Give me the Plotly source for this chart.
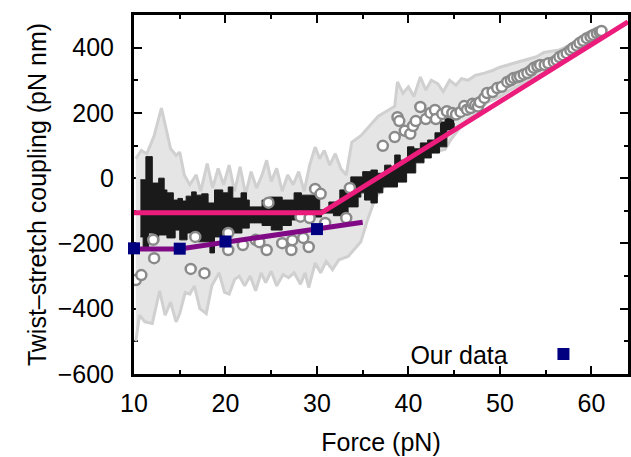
import plotly.graph_objects as go

# ---- gray envelope (upper / lower edges) ----
band_up_x = [10.2, 10.8, 11.4, 12.2, 13.0, 13.5, 14.0, 14.6, 15.0, 15.5, 16.1, 16.8, 17.3, 18.0, 18.6,
             19.2, 19.8, 20.4, 21.0, 21.6, 22.2, 22.8, 23.4, 24.0, 24.5, 25.0, 25.6, 26.2, 26.8, 27.4,
             28.0, 28.6, 29.2, 29.8, 30.3, 30.8, 31.4, 32.0, 32.6, 33.2, 33.8, 34.8, 35.8, 36.7, 37.6,
             38.5, 38.8, 39.4, 40.0, 40.6, 41.3, 41.9, 42.5, 43.2, 43.8, 44.5, 45.2, 45.8, 46.5, 47.3,
             48.3, 49.2, 50.0, 51.0, 52.0, 53.0, 54.0, 54.8, 55.6, 56.5, 57.3, 58.0, 58.7, 59.3]
band_up_y = [60, 85, 75, 130, 215, 150, 90, 70, 80, 10, -20, 10, -40, 45, -30,
             30, -20, 40, -40, 35, -50, 20, -30, 10, 55, -10, 30, -40, 10, -20,
             20, -40, 40, 95, 60, 85, 40, 75, 30, 10, 110, 130, 160, 190, 205,
             220, 295, 260, 280, 250, 310, 270, 300, 290, 265, 300, 285, 305, 300, 315,
             322, 330, 340, 348, 355, 363, 372, 385, 388, 393, 403, 410, 422, 432]
band_lo_x = [10.2, 10.6, 11.2, 12.0, 12.8, 13.4, 14.0, 14.6, 15.0, 15.6, 16.1, 16.6, 17.2, 17.9, 18.5,
             19.3, 19.9, 20.4, 21.0, 21.5, 22.1, 22.7, 23.3, 23.9, 24.4, 25.0, 25.6, 26.3, 26.9, 27.5,
             28.2, 28.7, 29.1, 29.8, 30.4, 31.0, 31.7, 32.4, 33.4, 34.0, 34.8, 35.5, 36.4, 37.2, 38.1,
             39.2, 40.0, 41.0, 41.8, 43.0, 44.0, 44.6, 45.5, 46.4, 47.5, 48.6, 50.0, 51.0, 52.2, 53.5,
             54.5, 55.9, 57.0, 57.6, 58.3, 59.3]
band_lo_y = [-500, -420, -440, -445, -345, -420, -380, -440, -415, -350, -355, -330, -400, -415, -330,
             -290, -350, -355, -310, -300, -330, -300, -345, -290, -320, -285, -330, -295, -305, -290,
             -325, -290, -335, -260, -290, -255, -280, -250, -240, -220, -195, -130, -60, -30, -5,
             30, 55, 70, 78, 82, 88, 117, 150, 178, 200, 232, 250, 268, 285, 305,
             320, 337, 355, 368, 390, 432]

# ---- black noisy band ----
blk_up_x = [10.7, 11.3, 12.0, 12.7, 13.3, 13.6, 14.3, 14.8, 15.3, 15.7, 16.3, 16.8, 17.4, 18.1, 18.8,
            19.7, 20.3, 20.8, 21.7, 22.3, 22.6, 24.0, 24.8, 26.2, 27.5, 28.3, 29.8, 30.3, 31.3, 32.5,
            33.7, 34.5, 35.0, 35.9, 36.6, 37.4, 38.1, 38.5, 39.1, 39.9, 40.6, 41.3, 42.1, 42.9, 43.5,
            44.0, 44.5, 45.0]
blk_up_y = [-5, 66, -15, 0, -36, -45, -67, -62, -70, -55, -42, -52, -48, -76, -36,
            -45, -27, -61, -45, -67, -88, -67, -58, -67, -45, -52, -36, -97, -73, -36,
            4, 4, 20, 25, 15, 40, 35, 71, 55, 96, 90, 108, 117, 139, 172,
            184, 187, 187]
blk_lo_x = [10.7, 11.0, 11.6, 12.1, 12.7, 13.6, 14.5, 15.0, 15.8, 17.0, 18.3, 18.8, 19.7, 20.8, 21.8,
            22.6, 24.0, 25.0, 26.2, 27.2, 29.1, 30.5, 31.8, 33.4, 34.5, 34.8, 35.2, 35.9, 36.6, 37.2,
            38.1, 38.8, 39.8, 40.8, 41.7, 42.5, 43.4, 44.2, 45.0]
blk_lo_y = [-180, -211, -168, -195, -174, -183, -159, -189, -168, -195, -229, -180, -159, -168, -153,
            -137, -145, -159, -145, -128, -119, -107, -115, -88, -58, -45, -67, -76, -45, -27,
            -27, -12, 16, 47, 62, 77, 96, 148, 169]

# ---- open circles (literature data) ----
circ_x = [10.2, 10.8, 12.1, 12.2, 16.2, 16.7, 17.7, 20.3, 20.3, 21.9, 23.3, 23.7, 24.5, 24.7, 26.2,
          27.2, 27.3, 28.2, 28.5, 29.1, 29.2, 29.8, 30.4, 30.9, 33.2, 33.6,
          37.2, 38.5, 38.8, 39.0, 39.6, 40.2, 40.5, 40.8, 41.3, 41.9, 42.4, 42.9, 43.0, 43.7, 44.2,
          44.8, 45.2, 45.7, 46.1, 46.4, 46.8, 47.0, 47.3, 47.6, 47.8, 48.3, 48.6, 49.2, 49.7, 50.2,
          50.8, 51.2, 51.5, 51.9, 52.2, 52.6, 53.0, 53.4, 53.7, 54.1, 54.4, 54.9, 55.3, 55.9, 56.2,
          56.5, 56.9, 57.3, 57.7, 58.0, 58.4, 58.7, 59.1, 59.5, 59.9, 60.2, 60.6, 60.9, 61.1]
circ_y = [-312, -297, -189, -245, -278, -180, -291, -220, -168, -205, -189, -196, -220, -75, -199,
          -220, -190, -118, -183, -211, -122, -33, -48, -137, -122, -30,
          99, 126, 187, 175, 145, 136, 160, 175, 218, 181, 200, 209, 181, 197, 205,
          200, 195, 203, 221, 210, 215, 228, 224, 220, 233, 246, 261, 264, 276, 280,
          295, 300, 307, 309, 312, 318, 322, 330, 338, 343, 347, 347, 352, 356, 362,
          371, 377, 383, 392, 399, 406, 414, 421, 429, 434, 439, 444, 448, 451]

# ---- fitted lines ----
fit_x = [10, 30.5, 64]
fit_y = [-106, -106, 479]
pur_x = [10, 15, 35]
pur_y = [-217, -217, -135]

# ---- our data ----
our_x = [10, 15, 20, 30]
our_y = [-215, -216, -194, -156]

fig = go.Figure()
band_fill = "#e5e5e5"
band_edge = "#d0d0d0"
fig.add_trace(go.Scatter(x=band_up_x, y=band_up_y, mode="lines",
                         line=dict(color=band_edge, width=3), showlegend=False, hoverinfo="skip"))
fig.add_trace(go.Scatter(x=band_lo_x, y=band_lo_y, mode="lines", fill="tonexty", fillcolor=band_fill,
                         line=dict(color=band_edge, width=3), showlegend=False, hoverinfo="skip"))
fig.add_trace(go.Scatter(x=blk_up_x, y=blk_up_y, mode="lines", line_shape="hv",
                         line=dict(color="#1a1a1a", width=1), showlegend=False, hoverinfo="skip"))
fig.add_trace(go.Scatter(x=blk_lo_x, y=blk_lo_y, mode="lines", line_shape="hv", fill="tonexty",
                         fillcolor="#1a1a1a", line=dict(color="#1a1a1a", width=1),
                         showlegend=False, hoverinfo="skip"))
fig.add_trace(go.Scatter(x=circ_x, y=circ_y, mode="markers",
                         marker=dict(symbol="circle", size=10, color="white",
                                     line=dict(color="#8a8a8a", width=2.5)),
                         showlegend=False))
fig.add_trace(go.Scatter(x=fit_x, y=fit_y, mode="lines", line=dict(color="#ec1c7c", width=5),
                         showlegend=False))
fig.add_trace(go.Scatter(x=pur_x, y=pur_y, mode="lines", line=dict(color="#800a85", width=5),
                         showlegend=False))
fig.add_trace(go.Scatter(x=our_x, y=our_y, mode="markers", name=" ", cliponaxis=False,
                         marker=dict(symbol="square", size=12, color="#000080"),
                         showlegend=True))

font = dict(family="Liberation Sans, Arial, sans-serif", size=25, color="black")
axis_common = dict(showline=True, linewidth=3, linecolor="black", mirror="allticks",
                   ticks="inside", ticklen=8, tickwidth=2, tickcolor="black",
                   showgrid=False, zeroline=False, tickfont=font, layer="below traces")
fig.update_xaxes(range=[10, 64], tickvals=[10, 20, 30, 40, 50, 60],
                 minor=dict(tickvals=[15, 25, 35, 45, 55], ticklen=4, tickwidth=1.5, tickcolor="black",
                            ticks="inside", showgrid=False),
                 title=dict(text="Force (pN)", font=font, standoff=18), ticklabelstandoff=5,
                 **axis_common)
fig.update_yaxes(range=[-600, 500], tickvals=[-600, -400, -200, 0, 200, 400],
                 ticktext=["\u2212600", "\u2212400", "\u2212200", "0", "200", "400"],
                 minor=dict(tickvals=[-500, -300, -100, 100, 300], ticklen=4, tickwidth=1.5,
                            tickcolor="black", ticks="inside", showgrid=False),
                 title=dict(text="Twist\u2013stretch coupling (pN nm)", font=font, standoff=4),
                 ticklabelstandoff=12, **axis_common)
fig.update_layout(width=631, height=457, margin=dict(l=134, r=0, t=15, b=83),
                  paper_bgcolor="white", plot_bgcolor="white", font=font,
                  legend=dict(title=dict(text="Our data\u00a0\u00a0\u00a0\u00a0", side="left", font=font),
                              x=0.936, y=0.055, xanchor="right", yanchor="middle",
                              bgcolor="rgba(0,0,0,0)", font=font, itemwidth=30))
fig.write_html("out.html")
